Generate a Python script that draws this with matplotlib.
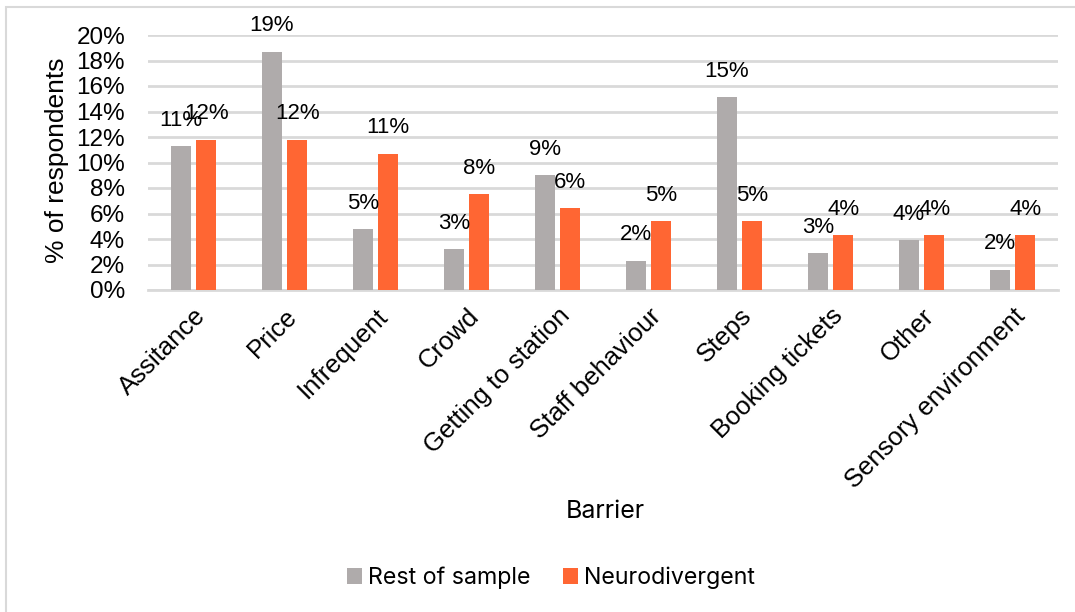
import matplotlib.pyplot as plt
import numpy as np
from matplotlib.patches import Rectangle
from matplotlib.transforms import ScaledTranslation

# barriers, share of respondents (%)
barriers = ["Assitance", "Price", "Infrequent", "Crowd", "Getting to station",
            "Staff behaviour", "Steps", "Booking tickets", "Other", "Sensory environment"]
rest = [11.3, 18.7, 4.8, 3.2, 9.0, 2.3, 15.1, 2.9, 3.9, 1.6]
neuro = [11.8, 11.8, 10.7, 7.5, 6.4, 5.4, 5.4, 4.3, 4.3, 4.3]
yticks = [0, 2, 4, 6, 8, 10, 12, 14, 16, 18, 20]

grey = "#AFABAB"
orange = "#FF6633"
font = "Liberation Sans"
font2 = "Inter"

fig = plt.figure(figsize=(10.75, 6.12), dpi=100)
fig.patches.append(Rectangle((6 / 1075, -0.1), 1.2, 1 - 7 / 612 + 0.1, transform=fig.transFigure,
                             fill=False, edgecolor="#D9D9D9", linewidth=1.5))
ax = fig.add_axes([148 / 1075, 1 - 290 / 612, 910 / 1075, 255 / 612])

x = np.arange(len(barriers))
w = 0.22
b1 = ax.bar(x - 0.14, rest, w, color=grey, label="Rest of sample", zorder=3)
b2 = ax.bar(x + 0.14, neuro, w, color=orange, label="Neurodivergent", zorder=3)
for bars, vals in [(b1, rest), (b2, neuro)]:
    ax.bar_label(bars, labels=[f"{round(v):.0f}%" for v in vals], padding=11,
                 fontsize=16, family=font, zorder=4)

ax.set_xlim(-0.5, len(barriers) - 0.5)
ax.set_ylim(0, 20)
ax.set_yticks(yticks)
ax.set_yticklabels([f"{t}%" for t in yticks], fontsize=17.5, family=font)
ax.set_xticks(x)
ax.set_xticklabels(barriers, rotation=45, ha="right", rotation_mode="anchor",
                   fontsize=18.5, family=font)
shift = ScaledTranslation(-11 / 100, 0, fig.dpi_scale_trans)
for lab in ax.get_xticklabels():
    lab.set_transform(lab.get_transform() + shift)
ax.tick_params(length=0)
ax.tick_params(axis="y", pad=16.5)
ax.tick_params(axis="x", pad=10)
ax.grid(axis="y", color="#D9D9D9", linewidth=2, zorder=0)
for s in ["top", "right", "left"]:
    ax.spines[s].set_visible(False)
ax.spines["bottom"].set_color("#D9D9D9")
ax.spines["bottom"].set_linewidth(2)

ax.set_ylabel("% of respondents", fontsize=19, family=font)
ax.yaxis.set_label_coords(-0.087, 0.51)
fig.text(605 / 1075, 1 - 512 / 612, "Barrier", fontsize=18, family=font2,
         ha="center", va="center")
fig.legend(handles=[b1, b2], loc="center", bbox_to_anchor=(551 / 1075, 1 - 578 / 612),
           ncol=2, frameon=False, prop={"family": font2, "size": 16.7},
           handlelength=0.65, handleheight=0.65, handletextpad=0.25, columnspacing=1.4)

fig.savefig("out.png", dpi=100)
